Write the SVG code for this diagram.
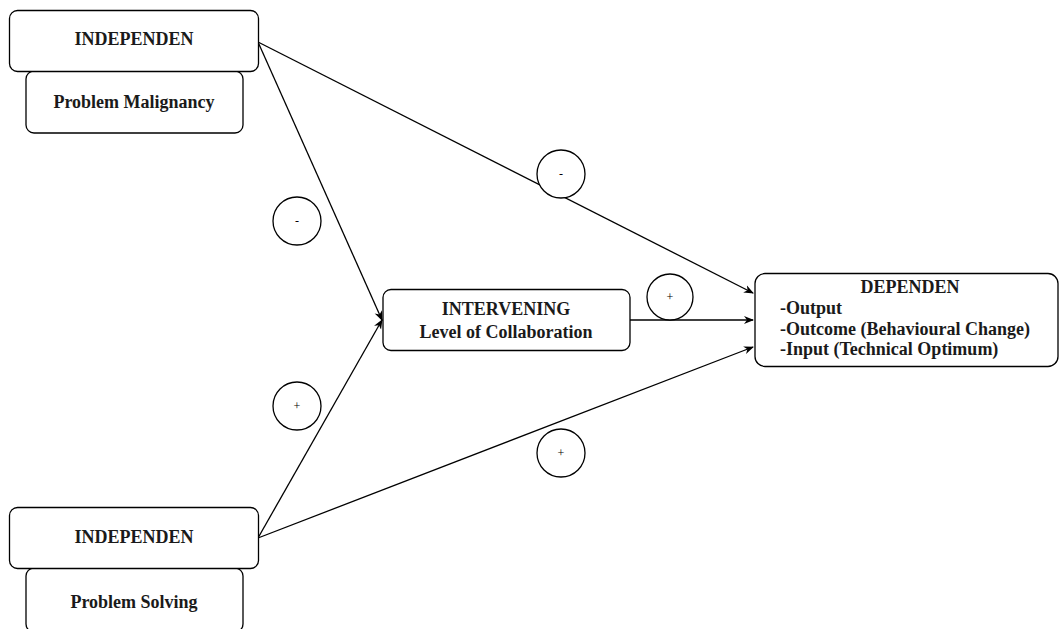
<svg xmlns="http://www.w3.org/2000/svg" width="1060" height="629" viewBox="0 0 1060 629">
<defs>
<style>
.box{fill:#fff;stroke:#000;stroke-width:1.3}
.t{font-family:"Liberation Serif","Times New Roman",serif;font-size:18px;font-weight:bold;fill:#1a1a1a}
.c{text-anchor:middle}
.s{font-family:"Liberation Serif","Times New Roman",serif;font-size:12px;text-anchor:middle;fill:#000}
.sign{fill:#fff;stroke:#000;stroke-width:1.3}
.edge{stroke:#000;stroke-width:1.3;fill:none;marker-end:url(#ah)}
</style>
<marker id="ah" viewBox="0 0 10 10" refX="9" refY="5" markerWidth="10" markerHeight="10" markerUnits="userSpaceOnUse" orient="auto">
<path d="M0,1 L10,5 L0,9 L3,5 Z" fill="#000"/>
</marker>
</defs>
<rect width="1060" height="629" fill="#fff"/>
<g id="connectors">
<path class="edge" d="M258,42 L753,293"/>
<path class="edge" d="M258,42 L382,320"/>
<path class="edge" d="M258,538 L382,320"/>
<path class="edge" d="M258,538 L753,347"/>
<path class="edge" d="M630,320 L753,320"/>
</g>
<g id="ind1">
<rect class="box" x="26" y="71" width="217" height="62" rx="8"/>
<text class="t c" x="134" y="107.5">Problem Malignancy</text>
<rect class="box" x="9.5" y="10.5" width="249" height="61" rx="8"/>
<text class="t c" x="134" y="45">INDEPENDEN</text>
</g>
<g id="ind2">
<rect class="box" x="26" y="568" width="217" height="64" rx="8"/>
<text class="t c" x="134" y="608">Problem Solving</text>
<rect class="box" x="9.5" y="507.5" width="249" height="61" rx="8"/>
<text class="t c" x="134" y="543">INDEPENDEN</text>
</g>
<g id="intervening">
<rect class="box" x="383" y="289.5" width="247" height="61" rx="8"/>
<text class="t c" x="506" y="315">INTERVENING</text>
<text class="t c" x="506" y="337.5">Level of Collaboration</text>
</g>
<g id="dependen">
<rect class="box" x="755" y="273.5" width="303" height="93" rx="10"/>
<text class="t c" x="910" y="292.5">DEPENDEN</text>
<text class="t" x="780" y="314">-Output</text>
<text class="t" x="780" y="335">-Outcome (Behavioural Change)</text>
<text class="t" x="780" y="355">-Input (Technical Optimum)</text>
</g>
<g id="signs">
<circle class="sign" cx="297" cy="221" r="24"/>
<text class="s" x="297" y="225">-</text>
<circle class="sign" cx="561" cy="174" r="24"/>
<text class="s" x="561" y="178">-</text>
<circle class="sign" cx="297" cy="406" r="24"/>
<text class="s" x="297" y="410">+</text>
<circle class="sign" cx="561" cy="453" r="24"/>
<text class="s" x="561" y="457">+</text>
<circle class="sign" cx="670" cy="297" r="23"/>
<text class="s" x="670" y="301">+</text>
</g>
</svg>
